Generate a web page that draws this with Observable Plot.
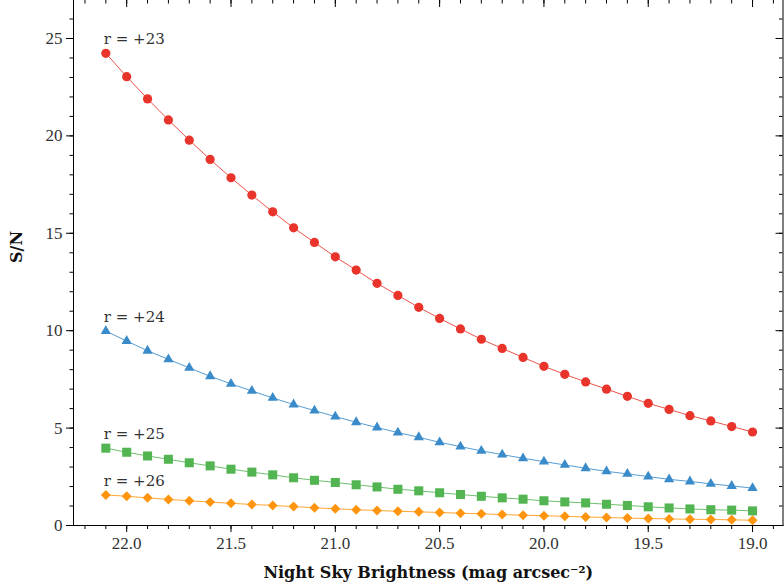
<!DOCTYPE html>
<html>
<head>
<meta charset="utf-8">
<script src="https://cdn.jsdelivr.net/npm/d3@7"></script>
<script src="https://cdn.jsdelivr.net/npm/@observablehq/plot@0.6"></script>
<style>
  html, body { margin: 0; padding: 0; background: #fff; }
  #chart svg { display: block; }
</style>
</head>
<body>
<div id="chart"></div>
<script>
// Night sky brightness (mag arcsec^-2)
const skyBrightness = [22.1, 22.0, 21.9, 21.8, 21.7, 21.6, 21.5, 21.4, 21.3, 21.2, 21.1, 21.0, 20.9, 20.8, 20.7, 20.6,
  20.5, 20.4, 20.3, 20.2, 20.1, 20.0, 19.9, 19.8, 19.7, 19.6, 19.5, 19.4, 19.3, 19.2, 19.1, 19.0];

// S/N for each source magnitude
const snR23 = [24.24, 23.04, 21.90, 20.82, 19.78, 18.79, 17.85, 16.96, 16.10, 15.28, 14.53, 13.79, 13.11, 12.43, 11.81, 11.20,
  10.63, 10.09, 9.56, 9.09, 8.63, 8.17, 7.76, 7.37, 7.00, 6.63, 6.27, 5.96, 5.64, 5.37, 5.08, 4.80];
const snR24 = [9.98, 9.47, 8.97, 8.53, 8.09, 7.66, 7.27, 6.91, 6.55, 6.21, 5.90, 5.59, 5.30, 5.03, 4.77, 4.53,
  4.27, 4.05, 3.83, 3.64, 3.45, 3.28, 3.11, 2.94, 2.78, 2.65, 2.51, 2.37, 2.26, 2.14, 2.03, 1.92];
const snR25 = [3.97, 3.76, 3.57, 3.40, 3.22, 3.06, 2.89, 2.74, 2.60, 2.45, 2.32, 2.21, 2.09, 1.98, 1.86, 1.78,
  1.68, 1.59, 1.50, 1.42, 1.35, 1.27, 1.21, 1.16, 1.09, 1.03, 0.96, 0.90, 0.85, 0.81, 0.79, 0.75];
const snR26 = [1.57, 1.50, 1.42, 1.34, 1.27, 1.20, 1.14, 1.08, 1.03, 0.97, 0.91, 0.86, 0.81, 0.77, 0.73, 0.70,
  0.67, 0.63, 0.60, 0.56, 0.53, 0.50, 0.47, 0.44, 0.41, 0.38, 0.36, 0.34, 0.32, 0.31, 0.29, 0.27];

const seriesLabels = ["r = +23", "r = +24", "r = +25", "r = +26"];
const seriesColors = ["#e8342a", "#3a8bc9", "#52b552", "#ff950e"];
const seriesSymbols = ["circle", "triangle", "square", "diamond2"];
const seriesRadius = [4.6, 3.8, 5.1, 4.5];

const xMajorTicks = [22.0, 21.5, 21.0, 20.5, 20.0, 19.5, 19.0];
const xMinorTicks = [22.2, 22.1, 22.0, 21.9, 21.8, 21.7, 21.6, 21.5, 21.4, 21.3, 21.2, 21.1, 21.0, 20.9, 20.8, 20.7, 20.6,
  20.5, 20.4, 20.3, 20.2, 20.1, 20.0, 19.9, 19.8, 19.7, 19.6, 19.5, 19.4, 19.3, 19.2, 19.1, 19.0, 18.9];
const yMajorTicks = [0, 5, 10, 15, 20, 25];
const yMinorTicks = [0, 1, 2, 3, 4, 5, 6, 7, 8, 9, 10, 11, 12, 13, 14, 15, 16, 17, 18, 19, 20, 21, 22, 23, 24, 25, 26];

const xLabel = "Night Sky Brightness (mag arcsec\u207B\u00B2)";
const yLabel = "S/N";

const seriesValues = [snR23, snR24, snR25, snR26];
const rows = seriesValues.map((vals, i) =>
  vals.map((v, j) => ({series: seriesLabels[i], x: skyBrightness[j], y: v}))
);
const firstPoints = rows.map(r => r[0]);

const font = "'Liberation Serif', 'DejaVu Serif', serif";
const wideFont = "'DejaVu Serif', serif";
const ink = "#333";

const marks = [];
rows.forEach((r, i) => {
  marks.push(Plot.line(r, {x: "x", y: "y", stroke: seriesColors[i], strokeWidth: 1, strokeOpacity: 0.85}));
  marks.push(Plot.dot(r, {x: "x", y: "y", symbol: seriesSymbols[i], r: seriesRadius[i], fill: seriesColors[i], stroke: "none"}));
});
marks.push(Plot.text(firstPoints, {x: "x", y: "y", text: "series", textAnchor: "start", lineAnchor: "middle",
  dx: -2, dy: -14, fontSize: 15, fill: ink, fontFamily: wideFont}));

// axes
marks.push(
  Plot.frame({anchor: "left", stroke: "#000"}),
  Plot.frame({anchor: "bottom", stroke: "#000"}),
  Plot.frame({anchor: "right", stroke: "#000"}),
  Plot.axisX(xMajorTicks, {anchor: "bottom", tickSize: 7, tickPadding: 4, tickFormat: d3.format(".1f"), label: null, fontSize: 17, fill: ink, stroke: "#000"}),
  Plot.axisX(xMinorTicks, {anchor: "bottom", tickSize: 4, fill: "none", label: null, stroke: "#000"}),
  Plot.axisX(xMajorTicks, {anchor: "bottom", frameAnchor: "top", tickSize: 7, fill: "none", label: null, stroke: "#000"}),
  Plot.axisX(xMinorTicks, {anchor: "bottom", frameAnchor: "top", tickSize: 3.5, fill: "none", label: null, stroke: "#000"}),
  Plot.axisY(yMajorTicks, {anchor: "left", tickSize: 7, tickPadding: 4, tickFormat: d3.format("d"), label: null, fontSize: 17, fill: ink, stroke: "#000"}),
  Plot.axisY(yMinorTicks, {anchor: "left", tickSize: 3.5, fill: "none", label: null, stroke: "#000"}),
  Plot.axisY(yMajorTicks, {anchor: "left", frameAnchor: "right", tickSize: 7, fill: "none", label: null, stroke: "#000"}),
  Plot.axisY(yMinorTicks, {anchor: "left", frameAnchor: "right", tickSize: 3.5, fill: "none", label: null, stroke: "#000"}),
  Plot.text([xLabel], {frameAnchor: "bottom", dy: 47, lineAnchor: "middle", fontSize: 16, fontWeight: "bold", fill: "#111", fontFamily: wideFont}),
  Plot.text([yLabel], {frameAnchor: "left", dx: -57, rotate: -90, lineAnchor: "middle", fontSize: 16, fontWeight: "bold", fill: "#111", fontFamily: wideFont})
);

const chart = Plot.plot({
  width: 784,
  height: 587,
  marginLeft: 73,
  marginRight: 1.5,
  marginTop: 0,
  marginBottom: 62,
  style: {fontFamily: font, fontSize: "17px", background: "#fff", color: "#000", overflow: "visible"},
  x: {domain: [22.255, 18.854]},
  y: {domain: [0, 26.95]},
  marks
});
document.getElementById("chart").appendChild(chart);
</script>
</body>
</html>
